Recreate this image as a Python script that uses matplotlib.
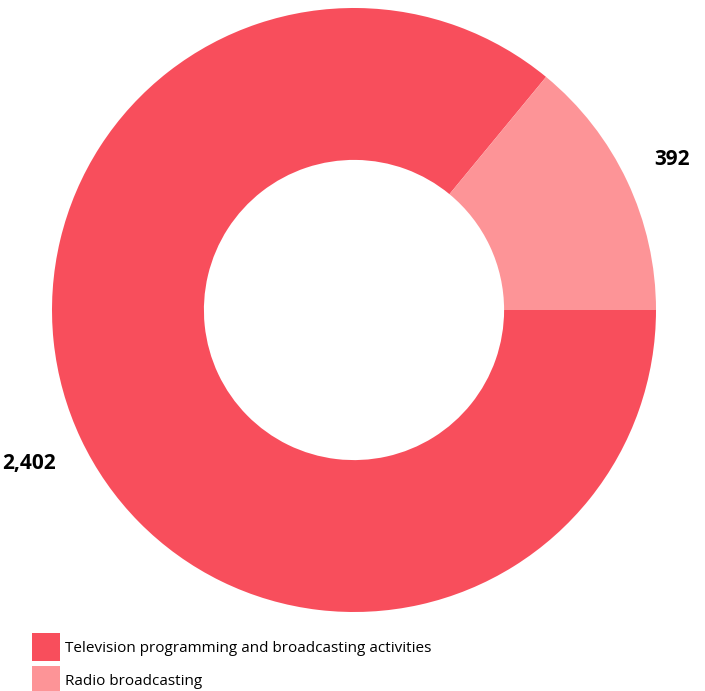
import matplotlib.pyplot as plt
from matplotlib.patches import Patch
import numpy as np

categories = ["Television programming and broadcasting activities", "Radio broadcasting"]
values = [2402, 392]
colors = ["#F84E5C", "#FD9497"]

plt.rcParams['font.family'] = ['Open Sans', 'DejaVu Sans']

W, H = 705, 691
fig = plt.figure(figsize=(W / 100, H / 100), dpi=100)

# donut centre and radius in pixels
cx, cy, R = 354, 310, 302
ax = fig.add_axes([(cx - R) / W, (H - cy - R) / H, 2 * R / W, 2 * R / H])
wedges, _ = ax.pie(values, colors=colors, startangle=0, counterclock=False,
                   radius=1, wedgeprops=dict(width=0.503, linewidth=0))
ax.set_xlim(-1, 1)
ax.set_ylim(-1, 1)
ax.set_axis_off()

# value labels just outside each wedge
dist = [1.19, 1.165]
for w, v, d in zip(wedges, values, dist):
    ang = np.deg2rad((w.theta1 + w.theta2) / 2)
    ax.text(d * np.cos(ang), d * np.sin(ang), f"{v:,}", ha='center', va='center',
            fontsize=15, fontweight='bold', color='black', clip_on=False)

handles = [Patch(facecolor=c, edgecolor='none') for c in colors]
fig.legend(handles, categories, loc='upper left',
           bbox_to_anchor=(32 / W, 1 - 633 / H), frameon=False,
           fontsize=11, handlelength=1.83, handleheight=2.44,
           handletextpad=0.33, labelspacing=0.33, borderpad=0, borderaxespad=0)

fig.savefig("out.png", dpi=100)
